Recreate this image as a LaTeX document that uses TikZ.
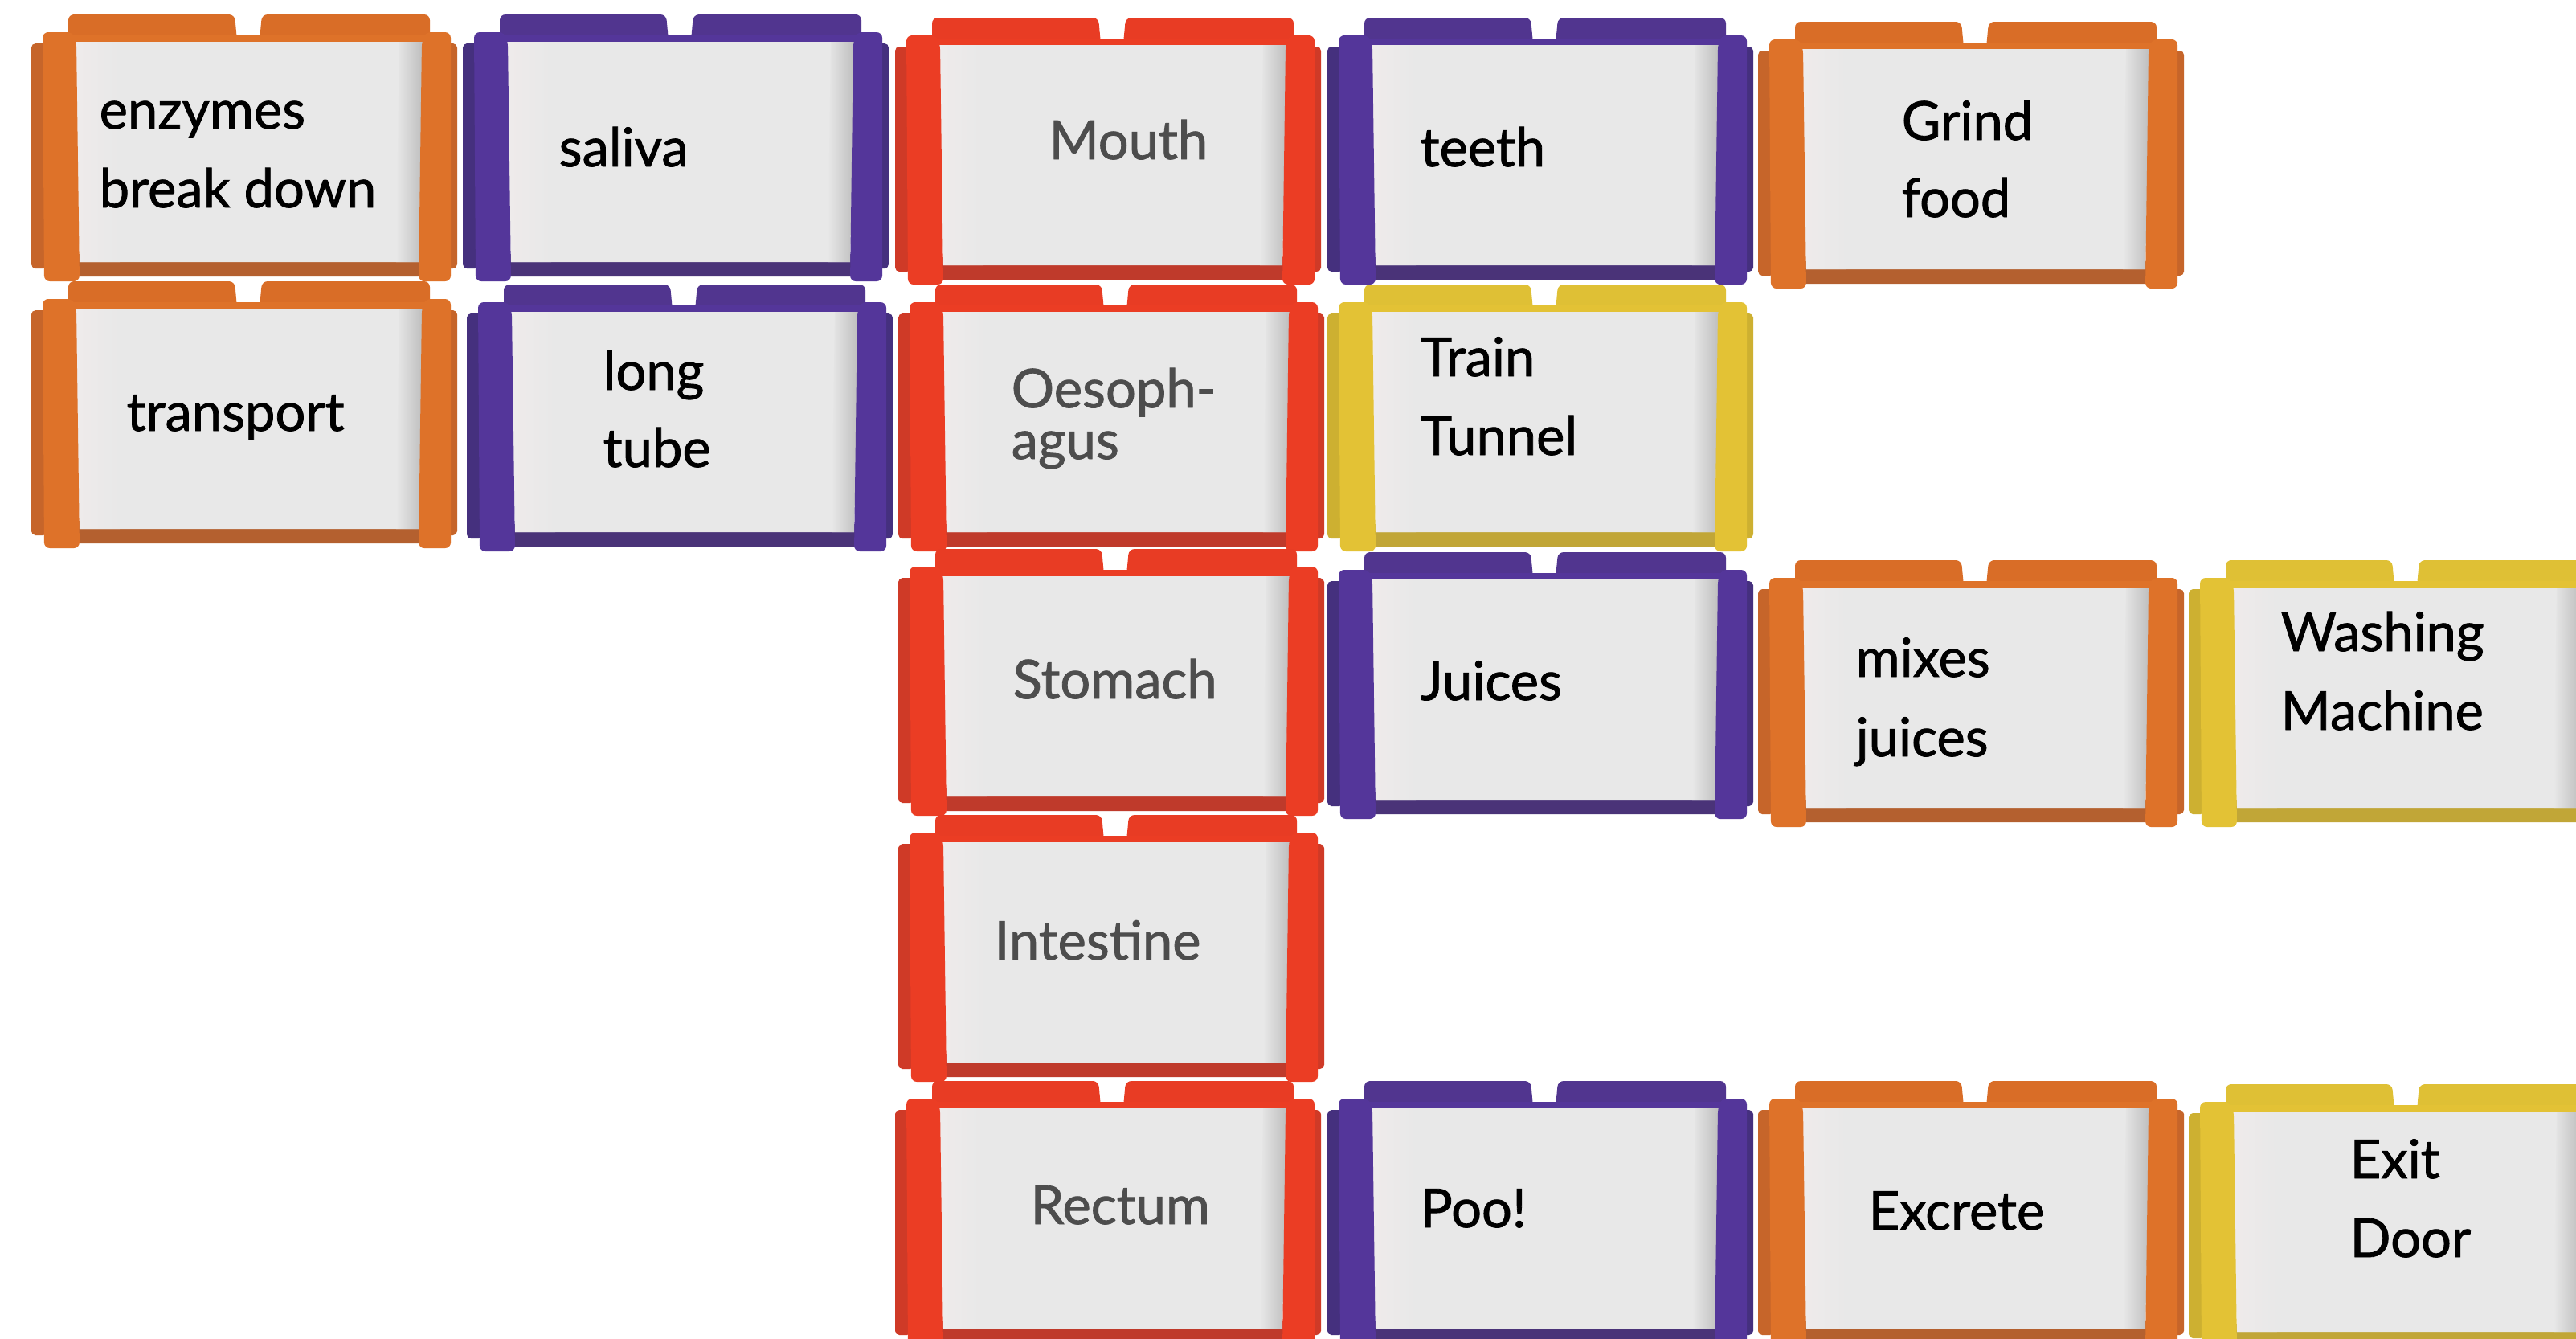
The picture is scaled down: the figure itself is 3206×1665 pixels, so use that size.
\documentclass[tikz,border=0pt]{standalone}
\usepackage{fontspec}
\setmainfont{Lato}
\newfontfamily\lblfont{Lato}[UprightFeatures={FakeBold=1.2}]
\definecolor{orM}{HTML}{DE7229}\definecolor{orT}{HTML}{D96D27}\definecolor{orD}{HTML}{C6652A}\definecolor{orB}{HTML}{B4602F}
\definecolor{puM}{HTML}{54369A}\definecolor{puT}{HTML}{51358F}\definecolor{puD}{HTML}{45307E}\definecolor{puB}{HTML}{4A3378}
\definecolor{reM}{HTML}{EB3D24}\definecolor{reT}{HTML}{E83C24}\definecolor{reD}{HTML}{CF3A27}\definecolor{reB}{HTML}{BF3A2B}
\definecolor{yeM}{HTML}{E3C235}\definecolor{yeT}{HTML}{DFC035}\definecolor{yeD}{HTML}{CDB031}\definecolor{yeB}{HTML}{C1A637}
\definecolor{panelC}{HTML}{E8E8E8}
\definecolor{panelL}{HTML}{EFEBEB}
\definecolor{shadowC}{HTML}{BDBDBD}
\definecolor{txtgrey}{HTML}{4D4D4D}
\tikzset{
  lbl/.style={anchor=base west, inner sep=0pt, font=\lblfont\fontsize{19}{23}\selectfont, text=black},
  lblred/.style={lbl, text=txtgrey},
}
\newcommand{\mytile}[3]{%
  \begin{scope}[shift={(#1,#2)}]
    % outer small posts
    \fill[#3D, rounded corners=1.5pt] (4,38) rectangle (24,318);
    \fill[#3D, rounded corners=1.5pt] (514,38) rectangle (534,318);
    % tabs
    \fill[#3T, rounded corners=2pt] (50,34) -- (50,2) -- (257,2) -- (260,34) -- cycle;
    \fill[#3T, rounded corners=2pt] (288,34) -- (291,2) -- (500,2) -- (500,34) -- cycle;
    % top bar
    \fill[#3M] (52,28) rectangle (498,40);
    % bottom bar
    \fill[#3B] (58,300) -- (492,300) -- (488,328) -- (62,328) -- cycle;
    % panel
    \fill[panelC] (58,36) -- (492,36) -- (486,310) -- (64,310) -- cycle;
    \shade[left color=panelL, right color=panelC] (58,36) -- (110,36) -- (114,310) -- (64,310) -- cycle;
    \shade[left color=panelC, right color=shadowC] (462,36) -- (492,36) -- (486,310) -- (458,310) -- cycle;
    % main posts
    \fill[#3M, rounded corners=2pt] (18,24) -- (56,24) -- (60,36) -- (64,334) -- (20,334) -- cycle;
    \fill[#3M, rounded corners=2pt] (494,24) -- (526,24) -- (526,334) -- (486,334) -- (490,36) -- cycle;
  \end{scope}}
\begin{document}
\begin{tikzpicture}[x=0.01cm, y=-0.01cm]
\useasboundingbox (0,0) rectangle (3206,1665);
\clip (0,0) rectangle (3206,1665);
\fill[white] (0,0) rectangle (3206,1665);
% row 1
\mytile{35}{16}{or}
\mytile{572}{16}{pu}
\mytile{1110}{20}{re}
\mytile{1648}{20}{pu}
\mytile{2184}{25}{or}
% row 2
\mytile{35}{348}{or}
\mytile{577}{352}{pu}
\mytile{1114}{352}{re}
\mytile{1648}{352}{ye}
% row 3
\mytile{1114}{681}{re}
\mytile{1648}{685}{pu}
\mytile{2184}{695}{or}
\mytile{2720}{695}{ye}
% row 4
\mytile{1114}{1012}{re}
% row 5
\mytile{1110}{1343}{re}
\mytile{1648}{1343}{pu}
\mytile{2184}{1343}{or}
\mytile{2720}{1347}{ye}
% labels
\node[lbl] (t1a) at (123,160) {enzymes};
\node[lbl] (t1b) at (123,258) {break down};
\node[lbl] (t2) at (695,207) {saliva};
\node[lblred] (t3) at (1305,198) {Mouth};
\node[lbl] (t4) at (1767,207) {teeth};
\node[lbl] (t5a) at (2366,174) {Grind};
\node[lbl] (t5b) at (2366,270) {food};
\node[lbl] (t6) at (157,536) {transport};
\node[lbl] (t7a) at (750,485) {long};
\node[lbl] (t7b) at (750,581) {tube};
\node[lblred] (t8a) at (1258,507) {Oesoph-};
\node[lblred] (t8b) at (1258,571) {agus};
\node[lbl] (t9a) at (1767,468) {Train};
\node[lbl] (t9b) at (1767,566) {Tunnel};
\node[lblred] (t10) at (1260,869) {Stomach};
\node[lbl] (t11) at (1767,871) {Juices};
\node[lbl] (t12a) at (2309,842) {mixes};
\node[lbl] (t12b) at (2309,941) {juices};
\node[lbl] (t13a) at (2838,810) {Washing};
\node[lbl] (t13b) at (2838,908) {Machine};
\node[lblred] (t14) at (1237,1194) {Intestine};
\node[lblred] (t15) at (1282,1523) {Rectum};
\node[lbl] (t16) at (1767,1527) {Poo!};
\node[lbl] (t17) at (2325,1530) {Excrete};
\node[lbl] (t18a) at (2924,1466) {Exit};
\node[lbl] (t18b) at (2924,1564) {Door};
\end{tikzpicture}
\end{document}
